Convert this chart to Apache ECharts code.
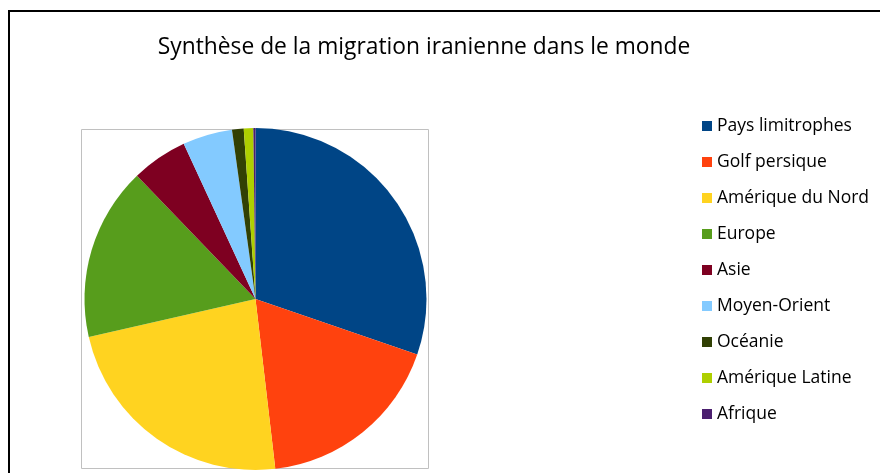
<!DOCTYPE html>
<html>
<head>
<meta charset="utf-8">
<style>html,body{margin:0;padding:0;background:#fff}#c{width:880px;height:473px}</style>
<script src="https://cdn.jsdelivr.net/npm/echarts@6/dist/echarts.min.js"></script>
</head>
<body>
<div id="c"></div>
<script>
const categories = ['Pays limitrophes','Golf persique','Amérique du Nord','Europe','Asie','Moyen-Orient','Océanie','Amérique Latine','Afrique'];
const values = [30.3, 17.9, 23.3, 16.4, 5.3, 4.7, 1.1, 0.9, 0.2];
const colors = ['#004586','#ff420e','#ffd320','#579d1c','#7e0021','#83caff','#314004','#aecf00','#4b1f6f'];
const titleText = 'Synthèse de la migration iranienne dans le monde';

const chart = echarts.init(document.getElementById('c'), null, {renderer:'canvas'});
chart.setOption({
  animation: false,
  backgroundColor: '#fff',
  color: colors,
  title: {
    text: titleText,
    left: 419, top: 31, textAlign: 'center',
    textStyle: {fontFamily: 'Open Sans', fontSize: 22.8, fontWeight: 'normal', color: '#000'}
  },
  graphic: [
    {type:'rect', shape:{x:9, y:11, width:900, height:500}, style:{fill:'none', stroke:'#000', lineWidth:2}, silent:true},
    {type:'rect', shape:{x:81.5, y:129.5, width:347, height:339}, style:{fill:'none', stroke:'#c0c0c0', lineWidth:1}, silent:true}
  ],
  legend: {
    orient: 'vertical', left: 702, top: 116, padding: 0,
    icon: 'rect', itemWidth: 10, itemHeight: 10, itemGap: 16,
    textStyle: {fontFamily: 'Open Sans', fontSize: 17.5, lineHeight: 20, color: '#000'},
    data: categories
  },
  series: [{
    type: 'pie',
    center: [255.5, 299],
    radius: 171,
    startAngle: 90,
    clockwise: true,
    label: {show: false},
    labelLine: {show: false},
    emphasis: {disabled: true},
    itemStyle: {borderWidth: 0},
    data: categories.map((c, i) => ({name: c, value: values[i]}))
  }]
});
</script>
</body>
</html>
